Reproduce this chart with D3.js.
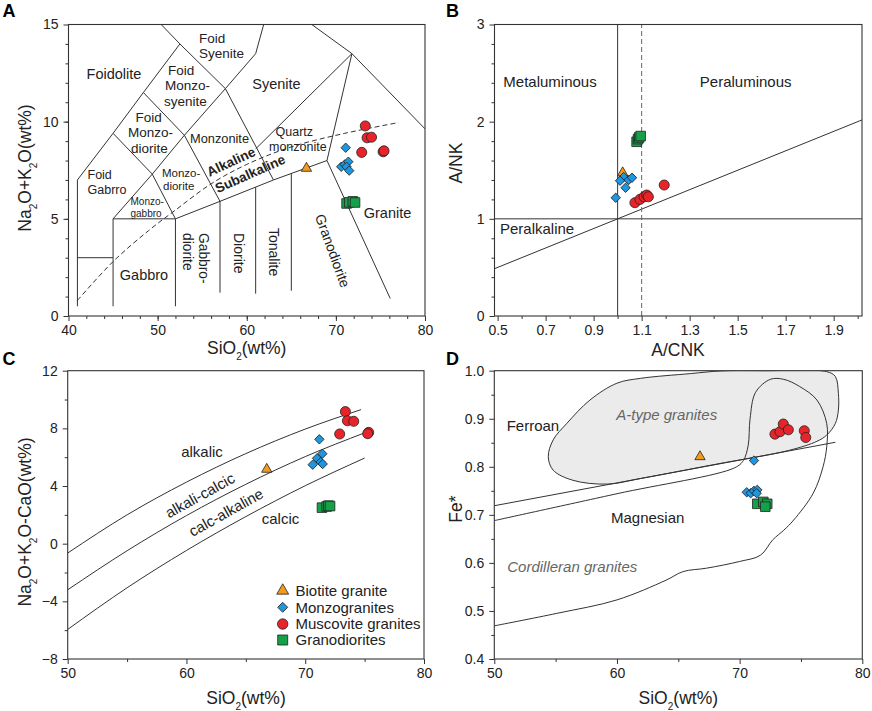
<!DOCTYPE html>
<html>
<head>
<meta charset="utf-8">
<title>Granite classification diagrams</title>
<script src="https://cdn.jsdelivr.net/npm/d3@7"></script>
<style>
  html, body { margin: 0; padding: 0; background: #fff; }
  svg { display: block; font-family: "Liberation Sans", Arial, sans-serif; }
  .tick text { font-size: 14px; fill: #222; }
  .tick line { stroke: #333; }
  .lbl { fill: #222; }
</style>
</head>
<body>
<script>
// ---------- data ----------
// A: TAS (SiO2 vs Na2O+K2O)
var tasBiotite = [[66.7, 7.6]];
var tasMonzo   = [[71.1, 8.66], [70.6, 7.68], [71.0, 7.8], [71.4, 7.94], [71.2, 7.68], [71.5, 7.48]];
var tasMusc    = [[73.3, 9.78], [73.5, 9.17], [74.0, 9.2], [72.9, 8.42], [75.3, 8.45], [75.4, 8.5]];
var tasGrano   = [[71.2, 5.79], [71.5, 5.85], [71.9, 5.9], [72.15, 5.84]];

// B: A/CNK vs A/NK
var acnkBiotite = [[1.021, 1.474]];
var acnkMonzo   = [[0.992, 1.217], [1.025, 1.43], [1.01, 1.392], [1.033, 1.32], [1.046, 1.4], [1.06, 1.423]];
var acnkMusc    = [[1.072, 1.166], [1.093, 1.2], [1.11, 1.227], [1.121, 1.245], [1.128, 1.227], [1.194, 1.348]];
var acnkGrano   = [[1.079, 1.793], [1.085, 1.82], [1.09, 1.838], [1.096, 1.852]];

// C: SiO2 vs MALI
var maliBiotite = [[66.76, 5.16]];
var maliMonzo   = [[71.19, 7.24], [71.44, 6.24], [70.99, 5.92], [70.63, 5.48], [71.3, 5.66], [71.47, 5.53]];
var maliMusc    = [[73.38, 9.16], [73.55, 8.53], [74.08, 8.49], [72.9, 7.61], [75.34, 7.72], [75.26, 7.63]];
var maliGrano   = [[71.41, 2.5], [71.8, 2.58], [71.95, 2.64], [72.09, 2.61]];

// D: SiO2 vs Fe*
var feBiotite = [[66.77, 0.821]];
var feMonzo   = [[71.17, 0.813], [70.58, 0.747], [70.9, 0.745], [71.17, 0.75], [71.44, 0.752], [71.39, 0.745]];
var feMusc    = [[72.88, 0.868], [73.29, 0.873], [73.56, 0.889], [73.97, 0.877], [75.27, 0.875], [75.39, 0.861]];
var feGrano   = [[71.44, 0.723], [71.93, 0.727], [72.25, 0.723], [72.09, 0.717]];

// field boundaries
var tasLines = [
  [[41, 0.5], [41, 7], [45, 9.4], [48.4, 11.5], [52.5, 14]],
  [[50.4, 15], [52.5, 14], [57.6, 11.7], [61, 13.5], [61.9, 15]],
  [[41, 3], [45, 3]],
  [[45, 0.5], [45, 5], [52, 5], [52, 0.5]],
  [[45, 9.4], [49.4, 7.3], [45, 5]],
  [[49.4, 7.3], [52, 5]],
  [[48.4, 11.5], [53, 9.3], [49.4, 7.3]],
  [[53, 9.3], [57.6, 11.7]],
  [[53, 9.3], [57, 5.9]],
  [[57.6, 11.7], [63, 7]],
  [[52, 5], [57, 5.9], [63, 7], [69, 8]],
  [[57, 5.9], [57, 1.2]],
  [[61, 6.63], [61, 1.15]],
  [[65, 7.33], [65, 1.3]],
  [[61, 8.6], [71.8, 13.5]],
  [[67.3, 15], [71.8, 13.5], [80, 9.63]],
  [[71.8, 13.5], [69, 8], [76.1, 0.9]]
];
var tasAlkLine = [[41, 0.8], [45, 2.8], [49, 4.4], [52, 5.45], [56, 6.8], [60, 7.8], [65, 8.7], [71, 9.4], [77, 9.95]];

var anLines = [
  [[0.487, 0.487], [2.018, 2.018]],
  [[0.487, 1], [2.018, 1]],
  [[1, 0], [1, 3]]
];
var anDashed = [[1.1, 0], [1.1, 3]];

var maliAlkalic = [[50, -0.65], [55, 2.0], [60, 4.27], [65, 6.25], [70, 7.95], [74.7, 9.3]];
var maliAlkCalc = [[50, -3.2], [55, -0.49], [60, 1.95], [65, 4.12], [70, 6.04], [75.1, 7.72]];
var maliCalcAlk = [[50, -5.95], [55, -3.06], [60, -0.47], [65, 1.88], [70, 4.02], [75, 5.94]];

var feFerroan = [[50, 0.719], [77.8, 0.851]];
var feAtype = [[59.2, 0.764], [56.4, 0.772], [54.8, 0.793], [54.4, 0.821], [54.8, 0.856], [55.9, 0.89],
  [57.8, 0.939], [60.0, 0.974], [61.9, 0.984], [66, 0.994], [68.5, 0.9995], [72, 1.0], [77.1, 0.998],
  [77.8, 0.988], [78.05, 0.953], [78.05, 0.918], [77.8, 0.89], [77.1, 0.866], [76.3, 0.853],
  [74, 0.834], [68, 0.805], [62, 0.776]];
var feCordilleran = [[50, 0.688], [60, 0.744], [69.6, 0.798], [70.3, 0.813], [70.7, 0.845], [70.85, 0.9],
  [71.3, 0.955], [72.5, 0.982], [73.6, 0.982], [74.9, 0.967], [76.3, 0.939], [77.1, 0.89], [77.1, 0.842],
  [76.8, 0.8], [76.0, 0.745], [74.4, 0.689], [73.6, 0.668], [72.7, 0.648], [71.7, 0.616], [70.0, 0.603],
  [67.3, 0.589], [65.4, 0.582], [64.0, 0.564], [60.0, 0.523], [55.1, 0.495], [50, 0.469]];

var legendNames = ["Biotite granite", "Monzogranites", "Muscovite granites", "Granodiorites"];

// ---------- drawing ----------
var colors = ["#f39a1f", "#1f97e0", "#e8242a", "#16a04a"];
var shapes = [d3.symbolTriangle, d3.symbolSquare, d3.symbolCircle, d3.symbolSquare];
var sizes = [46, 44, 80, 92];

var svg = d3.select("body").append("svg")
    .attr("width", 872)
    .attr("height", 711);

function panel(id, box, xDom, yDom) {
  var x = d3.scaleLinear().domain(xDom).range([box[0], box[1]]);
  var y = d3.scaleLinear().domain(yDom).range([box[3], box[2]]);
  var g = svg.append("g");
  svg.append("clipPath").attr("id", "clip" + id)
    .append("rect").attr("x", box[0]).attr("y", box[2])
    .attr("width", box[1] - box[0]).attr("height", box[3] - box[2]);
  var inner = g.append("g").attr("clip-path", "url(#clip" + id + ")");
  return { g: g, inner: inner, x: x, y: y, box: box };
}

function axes(p, xMaj, xMin, yMaj, yMin, xFmt, yFmt) {
  var b = p.box;
  var ax = p.g.append("g").attr("transform", "translate(0," + b[3] + ")");
  ax.append("g").call(d3.axisBottom(p.x).tickValues(xMin).tickSize(3).tickFormat(""));
  ax.append("g").call(d3.axisBottom(p.x).tickValues(xMaj).tickSize(5).tickPadding(4).tickFormat(xFmt));
  var ay = p.g.append("g").attr("transform", "translate(" + b[0] + ",0)");
  ay.append("g").call(d3.axisLeft(p.y).tickValues(yMin).tickSize(3).tickFormat(""));
  ay.append("g").call(d3.axisLeft(p.y).tickValues(yMaj).tickSize(5).tickPadding(5).tickFormat(yFmt));
  p.g.selectAll(".domain").remove();
  p.g.append("rect").attr("x", b[0]).attr("y", b[2])
    .attr("width", b[1] - b[0]).attr("height", b[3] - b[2])
    .attr("fill", "none").attr("stroke", "#333").attr("stroke-width", 1.1);
}

function path(p, pts, curve, dash) {
  var line = d3.line().x(function(d) { return p.x(d[0]); }).y(function(d) { return p.y(d[1]); });
  if (curve) line.curve(curve);
  return p.inner.append("path").attr("d", line(pts))
    .attr("fill", "none").attr("stroke", "#333").attr("stroke-width", 1)
    .attr("stroke-dasharray", dash || null);
}

function points(p, groups) {
  groups.forEach(function(pts, i) {
    p.g.append("g").selectAll("path").data(pts).enter().append("path")
      .attr("d", d3.symbol().type(shapes[i]).size(sizes[i]))
      .attr("transform", function(d) {
        return "translate(" + p.x(d[0]) + "," + p.y(d[1]) + ")" + (i === 1 ? " rotate(45)" : "");
      })
      .attr("fill", colors[i]).attr("stroke", "#222").attr("stroke-width", 0.8);
  });
}

function text(g, s, x, y, size, opts) {
  opts = opts || {};
  var t = g.append("text").attr("class", "lbl").attr("x", x).attr("y", y)
    .attr("font-size", size).attr("text-anchor", opts.anchor || "start").text(s);
  if (opts.rotate) t.attr("transform", "rotate(" + opts.rotate + "," + x + "," + y + ")");
  if (opts.weight) t.attr("font-weight", opts.weight);
  if (opts.italic) t.attr("font-style", "italic").style("fill", "#666");
  return t;
}

// title with subscripts, parts: [text, isSub]
function title(g, parts, x, y, rotate) {
  var t = g.append("text").attr("class", "lbl").attr("x", x).attr("y", y)
    .attr("font-size", 17.5).attr("text-anchor", "middle");
  if (rotate) t.attr("transform", "rotate(" + rotate + "," + x + "," + y + ")");
  parts.forEach(function(pt) {
    var s = t.append("tspan").text(pt[0]);
    if (pt[1]) s.attr("font-size", 10).attr("baseline-shift", "sub");
  });
}

var sio2Title = [["SiO", 0], ["2", 1], ["(wt%)", 0]];
var fmtInt = d3.format("d");

// ----- A -----
var pA = panel("A", [68.5, 425, 24.5, 316], [40, 80], [0, 15]);
tasLines.forEach(function(l) { path(pA, l); });
path(pA, tasAlkLine, d3.curveCatmullRom, "5,3");
axes(pA, [40, 50, 60, 70, 80], d3.range(42, 80, 2), [0, 5, 10, 15], d3.range(1, 15, 1), fmtInt, fmtInt);

var gA = pA.g;
text(gA, "Foidolite", 114, 79, 14.5, { anchor: "middle" });
text(gA, "Foid", 199, 42.5, 13.5);
text(gA, "Syenite", 199, 58.3, 13.5);
text(gA, "Foid", 168, 74.5, 13.5);
text(gA, "Monzo-", 165, 90, 13.5);
text(gA, "syenite", 164, 105.5, 13.5);
text(gA, "Syenite", 276.5, 89, 14.5, { anchor: "middle" });
text(gA, "Foid", 135.5, 121.5, 13.5);
text(gA, "Monzo-", 128, 137, 13.5);
text(gA, "diorite", 131, 152.5, 13.5);
text(gA, "Monzonite", 190, 143.3, 12.8);
text(gA, "Quartz", 275.5, 135.5, 12.5);
text(gA, "monzonite", 269, 150.7, 12.5);
text(gA, "Foid", 87.5, 179.3, 12.5);
text(gA, "Gabrro", 87.5, 193.8, 12.5);
text(gA, "Monzo-", 162, 176.8, 11.5);
text(gA, "diorite", 163, 190.3, 11.5);
text(gA, "Monzo-", 130.5, 205.3, 10);
text(gA, "gabbro", 130.5, 217, 10);
text(gA, "Alkaline", 233, 166, 13.5, { anchor: "middle", rotate: -25, weight: "bold" });
text(gA, "Subalkaline", 252, 178, 13.5, { anchor: "middle", rotate: -24, weight: "bold" });
text(gA, "Gabbro", 144, 280, 14.5, { anchor: "middle" });
text(gA, "Gabbro-", 199, 233, 13.8, { rotate: 90 });
text(gA, "diorite", 183, 233, 13.8, { rotate: 90 });
text(gA, "Diorite", 233.8, 233, 14, { rotate: 90 });
text(gA, "Tonalite", 269, 228, 14, { rotate: 90 });
text(gA, "Granodiorite", 328, 252.5, 14, { anchor: "middle", rotate: 70 });
text(gA, "Granite", 387.5, 218.3, 14.5, { anchor: "middle" });
points(pA, [tasBiotite, tasMonzo, tasMusc, tasGrano]);
title(gA, sio2Title, 246.7, 354);
title(gA, [["Na", 0], ["2", 1], ["O+K", 0], ["2", 1], ["O(wt%)", 0]], 31, 168, -90);
text(gA, "A", 2.5, 17, 18, { weight: "bold" }).style("fill", "#000");

// ----- B -----
var pB = panel("B", [494.5, 862, 24.5, 316], [0.487, 2.018], [0, 3]);
anLines.forEach(function(l) { path(pB, l); });
path(pB, anDashed, null, "5,3").attr("stroke", "#666");
var fmt1 = d3.format(".1f");
axes(pB, [0.5, 0.7, 0.9, 1.1, 1.3, 1.5, 1.7, 1.9], [0.6, 0.8, 1.0, 1.2, 1.4, 1.6, 1.8, 2.0],
  [0, 1, 2, 3], [0.2, 0.4, 0.6, 0.8, 1.2, 1.4, 1.6, 1.8, 2.2, 2.4, 2.6, 2.8], fmt1, fmtInt);
var gB = pB.g;
text(gB, "Metaluminous", 550, 87, 15, { anchor: "middle" });
text(gB, "Peraluminous", 745.7, 87, 15, { anchor: "middle" });
text(gB, "Peralkaline", 500, 234, 15);
points(pB, [acnkBiotite, acnkMonzo, acnkMusc, acnkGrano]);
title(gB, [["A/CNK", 0]], 678, 356);
title(gB, [["A/NK", 0]], 462, 163, -90);
text(gB, "B", 446, 17, 18, { weight: "bold" }).style("fill", "#000");

// ----- C -----
var pC = panel("C", [67.7, 424, 370.7, 659], [50, 80], [-8, 12]);
[maliAlkalic, maliAlkCalc, maliCalcAlk].forEach(function(l) { path(pC, l, d3.curveMonotoneX); });
axes(pC, [50, 60, 70, 80], [55, 65, 75], [-8, -4, 0, 4, 8, 12], [-6, -2, 2, 6, 10], fmtInt, fmtInt);
var gC = pC.g;
text(gC, "alkalic", 202, 457, 15, { anchor: "middle" });
text(gC, "alkali-calcic", 202.5, 500, 15, { anchor: "middle", rotate: -29 });
text(gC, "calc-alkaline", 228.5, 517, 15, { anchor: "middle", rotate: -29 });
text(gC, "calcic", 280.5, 524, 15, { anchor: "middle" });
points(pC, [maliBiotite, maliMonzo, maliMusc, maliGrano]);

// legend
var legY = [590.7, 607.3, 624, 640];
var legSizes = [62, 50, 85, 100];
legendNames.forEach(function(name, i) {
  gC.append("path")
    .attr("d", d3.symbol().type(shapes[i]).size(legSizes[i]))
    .attr("transform", "translate(282.7," + legY[i] + ")" + (i === 1 ? " rotate(45)" : ""))
    .attr("fill", colors[i]).attr("stroke", "#222").attr("stroke-width", 0.8);
  text(gC, name, 295.5, legY[i] + 5.3, 15);
});
title(gC, sio2Title, 246, 704);
title(gC, [["Na", 0], ["2", 1], ["O+K", 0], ["2", 1], ["O-CaO(wt%)", 0]], 31, 522, -90);
text(gC, "C", 2.5, 365, 18, { weight: "bold" }).style("fill", "#000");

// ----- D -----
var pD = panel("D", [494.3, 862.3, 370.7, 659], [50, 80], [0.4, 1.0]);
path(pD, feAtype, d3.curveCatmullRomClosed).attr("fill", "#ebebeb");
path(pD, feFerroan);
path(pD, feCordilleran, d3.curveCatmullRom);
axes(pD, [50, 60, 70, 80], [55, 65, 75], [0.4, 0.5, 0.6, 0.7, 0.8, 0.9, 1.0],
  [0.45, 0.55, 0.65, 0.75, 0.85, 0.95], fmtInt, fmt1);
var gD = pD.g;
text(gD, "Ferroan", 506.7, 430.5, 15);
text(gD, "A-type granites", 666.7, 419.5, 15, { anchor: "middle", italic: true });
text(gD, "Magnesian", 647.7, 523, 15, { anchor: "middle" });
text(gD, "Cordilleran granites", 572.3, 571.5, 15, { anchor: "middle", italic: true });
points(pD, [feBiotite, feMonzo, feMusc, feGrano]);
title(gD, sio2Title, 678.3, 704);
title(gD, [["Fe*", 0]], 462, 509, -90);
text(gD, "D", 446, 365, 18, { weight: "bold" }).style("fill", "#000");
</script>
</body>
</html>
